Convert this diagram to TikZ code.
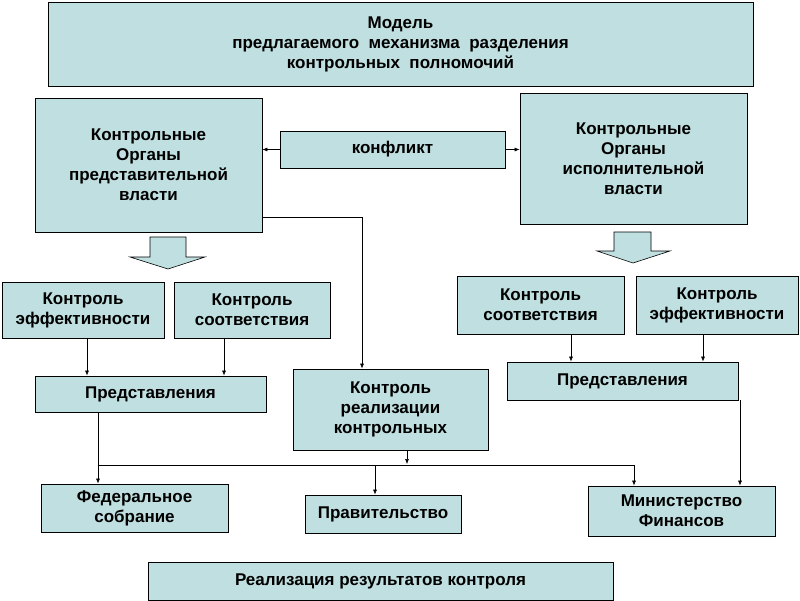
\documentclass[tikz,border=0pt]{standalone}
\usepackage{fontspec}
\setmainfont{Liberation Sans}
\usetikzlibrary{arrows.meta}
\begin{document}
\begin{tikzpicture}[x=1pt,y=-1pt,
  bx/.style={draw=black,fill=boxc,line width=0.8pt,font=\fontsize{17}{20}\selectfont\bfseries,align=center,inner sep=0pt},
  ar/.style={-{Latex[length=5pt,width=4pt]},line width=0.6pt}]
\definecolor{boxc}{HTML}{BFDFE0}
\useasboundingbox (0,0) rectangle (800,600);
\newcommand{\bbox}[6]{\node[bx,minimum width=#4-#2,minimum height=#5-#3] (#1) at ({(#2+#4)/2},{(#3+#5)/2}) {#6};}
\bbox{title}{48}{2}{753}{86}{Модель\\предлагаемого\ \ механизма\ \ разделения\\контрольных\ \ полномочий}
\bbox{lt}{35}{98}{262}{232}{Контрольные\\Органы\\представительной\\власти}
\bbox{conf}{280}{131}{505}{168}{конфликт}
\bbox{rt}{520}{93}{747}{224}{Контрольные\\Органы\\исполнительной\\власти}
\bbox{le}{2}{282}{164}{338}{Контроль\\эффективности}
\bbox{ls}{174}{282}{330}{338}{Контроль\\соответствия}
\bbox{lp}{35}{376}{266}{412}{Представления}
\bbox{kr}{293}{369}{488}{450}{Контроль\\реализации\\контрольных}
\bbox{rs}{457}{276}{624}{334}{Контроль\\соответствия}
\bbox{re}{636}{276}{798}{334}{Контроль\\эффективности}
\bbox{rp}{507}{362}{738}{400}{Представления}
\bbox{fs}{41}{484}{228}{532}{Федеральное\\собрание}
\bbox{gov}{305}{495}{461}{533}{Правительство}
\bbox{mf}{588}{486}{775}{536}{Министерство\\Финансов}
\bbox{res}{148}{562}{613}{600}{Реализация\ результатов\ контроля}
% block arrows
\draw[fill=boxc,line width=0.6pt] (150,237)--(186,237)--(186,257)--(205,257)--(168,269)--(130,257)--(150,257)--cycle;
\draw[fill=boxc,line width=0.6pt] (614,232)--(651,232)--(651,251)--(670,251)--(633,263)--(597,251)--(614,251)--cycle;
% connectors
\draw[ar] (conf.west) -- (lt.east|-conf.west);
\draw[ar] (conf.east) -- (rt.west|-conf.east);
\coordinate (c1) at (362,217);
\draw[ar] (lt.east|-c1) -- (c1) -- (kr.north-|c1);
\draw[ar] (le.south-|87,0) -- (lp.north-|87,0);
\draw[ar] (ls.south-|224,0) -- (lp.north-|224,0);
\draw[ar] (rs.south-|571,0) -- (rp.north-|571,0);
\draw[ar] (re.south-|703,0) -- (rp.north-|703,0);
\coordinate (h1) at (98,465);
\coordinate (h2) at (634,465);
\draw[line width=0.6pt] (lp.south-|h1) -- (h1) -- (h2);
\draw[ar] (h1) -- (fs.north-|h1);
\draw[ar] (375,465) -- (gov.north-|375,0);
\draw[ar] (h2) -- (mf.north-|h2);
\draw[ar] (kr.south-|407,0) -- (407,464);
\draw[ar] (rp.south-|740,0) -- (mf.north-|740,0);
\end{tikzpicture}
\end{document}
